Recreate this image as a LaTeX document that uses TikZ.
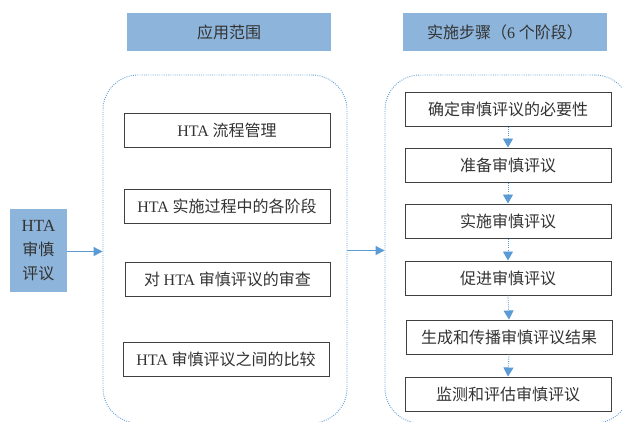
\documentclass[tikz,border=0pt]{standalone}
\usepackage{fontspec}
\setmainfont{Liberation Serif}
\newfontfamily\cjk{Noto Sans CJK SC}
\usetikzlibrary{arrows.meta}
\definecolor{hdrblue}{HTML}{8DB4DA}
\definecolor{lineblue}{HTML}{5B9BD5}
\definecolor{txt}{HTML}{333333}
\definecolor{frame}{HTML}{404040}
\tikzset{
  hdr/.style={fill=hdrblue, draw=none, minimum width=204pt, minimum height=38pt, inner sep=0pt, text=txt, font=\cjk\fontsize{16}{19}\selectfont},
  itembox/.style={draw=frame, line width=1pt, fill=white, minimum width=206pt, minimum height=34pt, inner sep=0pt, text=txt, font=\cjk\fontsize{16}{19}\selectfont},
  container/.style={draw=lineblue, line width=0.9pt, dash pattern=on 0.9pt off 1.3pt, rounded corners=35pt, minimum width=244pt, minimum height=348pt, inner sep=0pt},
  harrow/.style={draw=lineblue, line width=1.1pt, -{Triangle[width=9pt,length=9pt]}},
  varrow/.style={draw=lineblue, line width=0.9pt, dash pattern=on 0.9pt off 1.3pt, -{Triangle[width=10pt,length=9pt,fill=lineblue]}},
}
\begin{document}
\begin{tikzpicture}[x=1pt,y=-1pt]
\useasboundingbox (0,0) rectangle (622,421);
\begin{scope}
\clip (0,0) rectangle (622,421);
% headers
\node[hdr] (T1) at (229,32) {应用范围};
\node[hdr] (T2) at (505,32) {实施步骤（{\rmfamily 6} 个阶段）};
% containers
\node[container] (LC) at (225,249) {};
\node[container, minimum width=245pt] (RC) at (507.5,249) {};
% HTA box
\node[fill=hdrblue, minimum width=57pt, minimum height=83pt, inner sep=0pt, text=txt, align=center,
      font=\cjk\fontsize{16}{24}\selectfont] (H) at (38.5,250.5) {{\rmfamily\fontsize{17}{24}\selectfont HTA}\\审慎\\评议};
% left items
\node[itembox] (L1) at (227,130.5) {{\rmfamily HTA} 流程管理};
\node[itembox] (L2) at (227,206) {{\rmfamily HTA} 实施过程中的各阶段};
\node[itembox, minimum width=205pt] (L3) at (227.5,279.5) {对 {\rmfamily HTA} 审慎评议的审查};
\node[itembox] (L4) at (226,359) {{\rmfamily HTA} 审慎评议之间的比较};
% right items
\node[itembox] (R1) at (508,109) {确定审慎评议的必要性};
\node[itembox] (R2) at (508,165) {准备审慎评议};
\node[itembox] (R3) at (508,221) {实施审慎评议};
\node[itembox] (R4) at (508,278) {促进审慎评议};
\node[itembox] (R5) at (509,337) {生成和传播审慎评议结果};
\node[itembox] (R6) at (508,394) {监测和评估审慎评议};
% arrows
\draw[harrow] ([yshift=-1pt]H.east) -- ([yshift=-1pt]H.east -| LC.west);
\draw[harrow] ([yshift=-1.5pt]LC.east) -- ([yshift=-1.5pt]RC.west);
\draw[varrow] (R1.south) -- (R2.north);
\draw[varrow] (R2.south) -- (R3.north);
\draw[varrow] (R3.south) -- (R4.north);
\draw[varrow] (R4.south) -- (R5.north);
\draw[varrow] (R5.south) -- (R6.north);
\end{scope}
\end{tikzpicture}
\end{document}
